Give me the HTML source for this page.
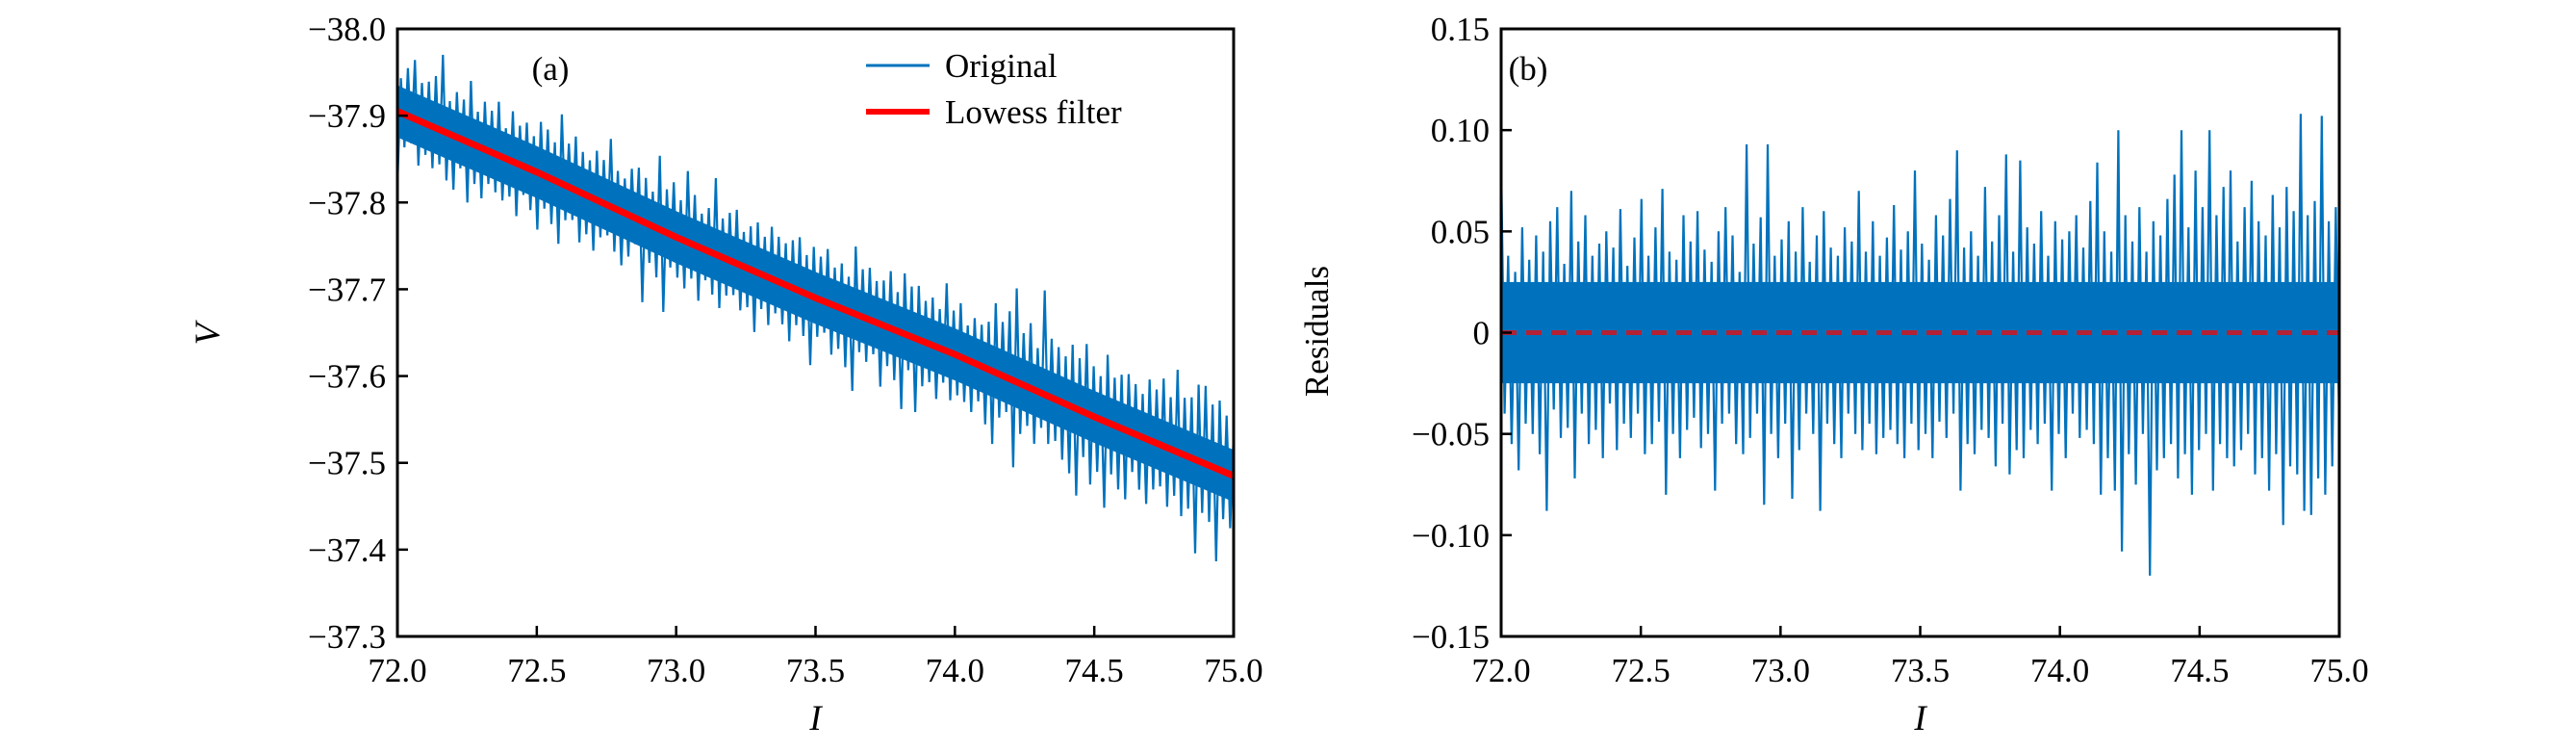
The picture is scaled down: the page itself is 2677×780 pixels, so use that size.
<!DOCTYPE html>
<html><head><meta charset="utf-8">
<style>
html,body{margin:0;padding:0;background:#fff;}
svg{display:block;font-family:"Liberation Serif",serif;}
</style></head>
<body>
<svg id="chart" width="2677" height="780" viewBox="0 0 2677 780">
<g id="pa"></g>
<g id="pb"></g>
</svg>
<script>
// ---- data ----
const xTicks = [72.0, 72.5, 73.0, 73.5, 74.0, 74.5, 75.0];
const xTickLabels = ["72.0","72.5","73.0","73.5","74.0","74.5","75.0"];
const vTicks = [-37.3,-37.4,-37.5,-37.6,-37.7,-37.8,-37.9,-38.0];
const vTickLabels = ["\u221237.3","\u221237.4","\u221237.5","\u221237.6","\u221237.7","\u221237.8","\u221237.9","\u221238.0"];
const rTicks = [-0.15,-0.10,-0.05,0,0.05,0.10,0.15];
const rTickLabels = ["\u22120.15","\u22120.10","\u22120.05","0","0.05","0.10","0.15"];
const lowessX = [72.0, 72.5, 73.0, 73.5, 74.0, 74.5, 75.0];
const lowessV = [-37.905, -37.835, -37.760, -37.690, -37.625, -37.553, -37.485];
// residuals in units of 0.001 V, evenly spaced over I = 72..75
const residuals = [85,-40,38,-55,30,-68,52,-45,36,-50,48,-60,40,-88,55,-38,62,-52,34,-47,70,-72,45,-40,58,-55,38,-48,44,-62,50,-35,42,-58,61,-45,33,-52,47,-40,
66,-60,38,-55,52,-44,71,-80,40,-50,36,-62,58,-48,45,-42,60,-57,41,-50,
35,-78,50,-45,62,-40,48,-55,30,-60,93,-52,44,-40,57,-85,93,-50,38,-62,
46,-45,55,-82,40,-58,62,-40,35,-50,48,-88,60,-45,42,-55,38,-62,52,-40,
45,-50,70,-58,40,-45,55,-60,38,-52,47,-48,63,-55,41,-62,50,-45,80,-58,
44,-50,36,-62,58,-44,48,-52,66,-40,90,-78,42,-55,50,-60,38,-48,72,-52,
45,-66,58,-45,88,-70,40,-58,85,-62,52,-48,44,-55,60,-45,38,-78,55,-50,
46,-62,50,-40,58,-52,42,-48,65,-55,84,-80,50,-62,40,-78,100,-108,58,-60,
45,-75,62,-50,40,-120,55,-68,48,-62,66,-55,78,-72,100,-60,52,-80,80,-58,
62,-50,100,-78,58,-55,72,-62,80,-66,45,-58,62,-50,75,-70,55,-62,48,-78,
68,-60,52,-95,72,-66,60,-70,108,-88,58,-90,65,-72,107,-80,55,-66,62,-48];
// ---- layout ----
const NS="http://www.w3.org/2000/svg";
function mk(parent,tag,attrs,name){const e=document.createElementNS(NS,tag);for(const k in attrs)e.setAttribute(k,attrs[k]);


parent.appendChild(e);return e;}
const PT=30, PB=661, FS=35;
function panel(left,right,ymin,ymax){
  const sx=v=>left+(v-72)/3*(right-left);
  const sy=v=>PB-(v-ymin)/(ymax-ymin)*(PB-PT);
  return {sx,sy,left,right};
}
function axes(g,P,yT,yL,yname,yx,yy){
  mk(g,'rect',{x:P.left,y:PT,width:P.right-P.left,height:PB-PT,fill:'none',stroke:'#000','stroke-width':3},'plot-frame');
  xTicks.forEach((t,i)=>{const x=P.sx(t);
    mk(g,'line',{x1:x,x2:x,y1:PB,y2:PB-11,stroke:'#000','stroke-width':2.5},'x-tick');
    const tx=mk(g,'text',{x:x,y:708,'font-size':FS,'text-anchor':'middle'},'x-tick-label');tx.textContent=xTickLabels[i];});
  yT.forEach((t,i)=>{const y=P.sy(t);
    mk(g,'line',{x1:P.left,x2:P.left+11,y1:y,y2:y,stroke:'#000','stroke-width':2.5},'y-tick');
    const tx=mk(g,'text',{x:P.left-12,y:y+12,'font-size':FS,'text-anchor':'end'},'y-tick-label');tx.textContent=yL[i];});
  const xl=mk(g,'text',{x:(P.left+P.right)/2,y:758,'font-size':37,'font-style':'italic','text-anchor':'middle'},'x-axis-title');xl.textContent='I';
  const yl=mk(g,'text',{x:yx,y:yy,'font-size':FS,'text-anchor':'middle',transform:`rotate(-90 ${yx} ${yy})`},'y-axis-title');yl.textContent=yname;
  if(yname==='V'){yl.setAttribute('font-style','italic');yl.setAttribute('font-size','37');}
}
// panel a
const ga=document.getElementById('pa');
const A=panel(413,1282,-38,-37.3);
A.sy=v=>PT+(v-(-38.0))/((-37.3)-(-38.0))*(PB-PT);
const lowAt=x=>{for(let i=0;i<lowessX.length-1;i++){if(x<=lowessX[i+1]){const f=(x-lowessX[i])/(lowessX[i+1]-lowessX[i]);return lowessV[i]+f*(lowessV[i+1]-lowessV[i]);}}return lowessV[lowessV.length-1];};
const band=[];lowessX.forEach((x,i)=>band.push([A.sx(x),A.sy(lowessV[i]-0.03)]));
for(let i=lowessX.length-1;i>=0;i--)band.push([A.sx(lowessX[i]),A.sy(lowessV[i]+0.03)]);
mk(ga,'polygon',{points:band.map(p=>p.join(',')).join(' '),fill:'#0072bd'},'original-core-band');
let dA='';residuals.forEach((r,i)=>{const x=72+3*i/(residuals.length-1);const v=lowAt(x)+r/1000;dA+=(i?'L':'M')+A.sx(x).toFixed(1)+' '+A.sy(v).toFixed(1);});
mk(ga,'path',{d:dA,fill:'none',stroke:'#0072bd','stroke-width':2.2},'original-series');
let dL='';lowessX.forEach((x,i)=>{dL+=(i?'L':'M')+A.sx(x)+' '+A.sy(lowessV[i]);});
mk(ga,'path',{d:dL,fill:'none',stroke:'#ff0000','stroke-width':7},'lowess-line');
axes(ga,A,vTicks,vTickLabels,'V',228,347);
const la=mk(ga,'text',{x:572,y:83,'font-size':FS,'text-anchor':'middle'},'panel-label-a');la.textContent='(a)';
mk(ga,'line',{x1:900,x2:966,y1:68,y2:68,stroke:'#0072bd','stroke-width':3},'legend-swatch-original');
const t1=mk(ga,'text',{x:982,y:80,'font-size':FS},'legend-entry-original');t1.textContent='Original';
mk(ga,'line',{x1:900,x2:966,y1:116,y2:116,stroke:'#ff0000','stroke-width':6},'legend-swatch-lowess');
const t2=mk(ga,'text',{x:982,y:128,'font-size':FS},'legend-entry-lowess');t2.textContent='Lowess filter';
// panel b
const gb=document.getElementById('pb');
const B=panel(1560,2431,-0.15,0.15);
mk(gb,'rect',{x:1560,y:B.sy(0.025),width:871,height:B.sy(-0.025)-B.sy(0.025),fill:'#0072bd'},'residual-core-band');
let dB='';residuals.forEach((r,i)=>{const x=72+3*i/(residuals.length-1);dB+=(i?'L':'M')+B.sx(x).toFixed(1)+' '+B.sy(r/1000).toFixed(1);});
mk(gb,'path',{d:dB,fill:'none',stroke:'#0072bd','stroke-width':2.2},'residual-series');
mk(gb,'line',{x1:1560,x2:2431,y1:B.sy(0),y2:B.sy(0),stroke:'#b22234','stroke-width':5,'stroke-dasharray':'16 10'},'zero-line');
axes(gb,B,rTicks,rTickLabels,'Residuals',1380,344);
const lb=mk(gb,'text',{x:1588,y:83,'font-size':FS,'text-anchor':'middle'},'panel-label-b');lb.textContent='(b)';
</script>
</body></html>
